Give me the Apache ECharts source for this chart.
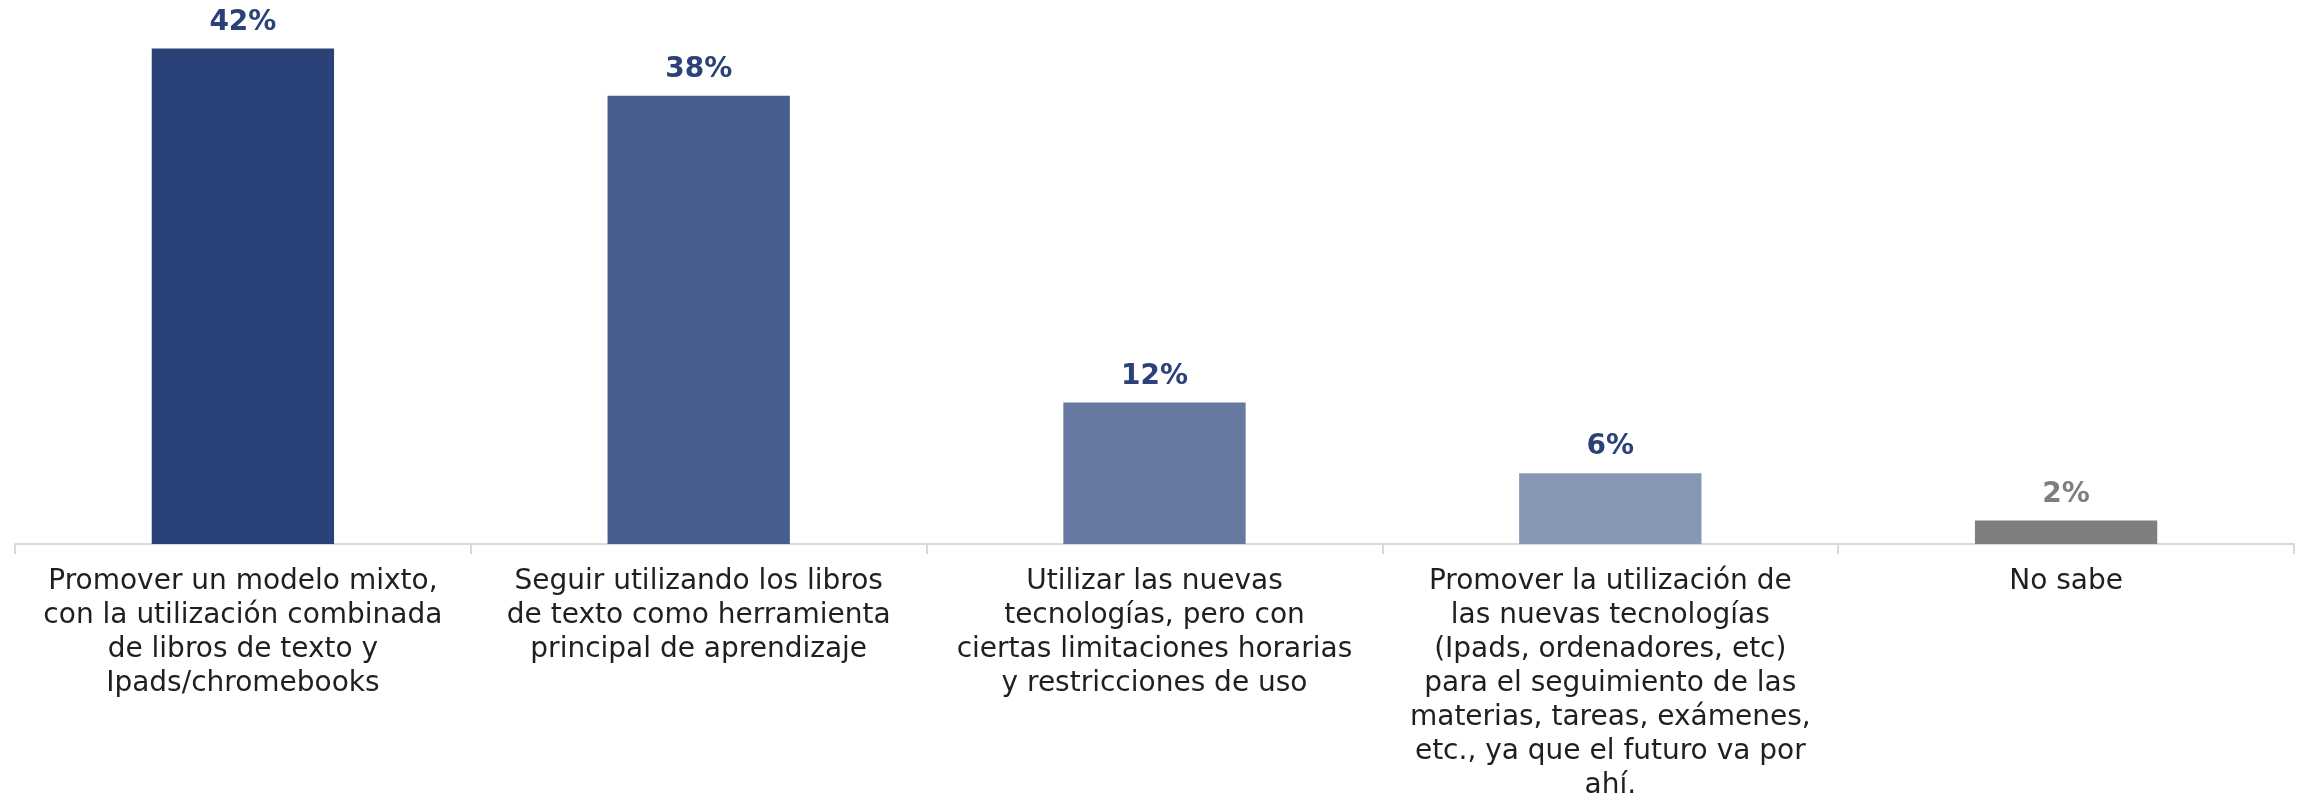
<!DOCTYPE html>
<html>
<head>
<meta charset="utf-8">
<script src="https://cdn.jsdelivr.net/npm/echarts@6/dist/echarts.min.js"></script>
<style>
html,body{margin:0;padding:0;background:#fff;}
#chart{width:2306px;height:809px;}
</style>
</head>
<body>
<div id="chart"></div>
<script>
const categories = [
  "Promover un modelo mixto,\ncon la utilización combinada\nde libros de texto y\nIpads/chromebooks",
  "Seguir utilizando los libros\nde texto como herramienta\nprincipal de aprendizaje",
  "Utilizar las nuevas\ntecnologías, pero con\nciertas limitaciones horarias\ny restricciones de uso",
  "Promover la utilización de\nlas nuevas tecnologías\n(Ipads, ordenadores, etc)\npara el seguimiento de las\nmaterias, tareas, exámenes,\netc., ya que el futuro va por\nahí.",
  "No sabe"
];
const values = [42, 38, 12, 6, 2];
const barColors = ["#2A4278", "#485E8C", "#6879A1", "#8796B4", "#7F7F7F"];
const labelColors = ["#2B4279", "#2B4279", "#2B4279", "#2B4279", "#7F7F7F"];

const chart = echarts.init(document.getElementById('chart'));
chart.setOption({
  backgroundColor: '#ffffff',
  animation: false,
  grid: { left: 15, right: 12, top: 48.5, bottom: 265, containLabel: false, outerBoundsMode: 'none' },
  xAxis: {
    type: 'category',
    data: categories,
    axisLine: { show: true, lineStyle: { color: '#D9D9D9', width: 2 } },
    axisTick: { show: true, alignWithLabel: false, length: 10, lineStyle: { color: '#D9D9D9', width: 2 } },
    axisLabel: {
      interval: 0,
      margin: 21,
      fontFamily: 'DejaVu Sans',
      fontSize: 28,
      lineHeight: 34,
      color: '#1F1F1F',
      align: 'center'
    }
  },
  yAxis: {
    type: 'value',
    min: 0,
    max: 42,
    show: false,
    splitLine: { show: false }
  },
  series: [{
    type: 'bar',
    barCategoryGap: '60%',
    data: values.map((v, i) => ({
      value: v,
      itemStyle: { color: barColors[i] },
      label: { color: labelColors[i] }
    })),
    label: {
      show: true,
      position: 'top',
      distance: 12,
      formatter: '{c}%',
      fontFamily: 'DejaVu Sans',
      fontWeight: 'bold',
      fontSize: 28
    }
  }]
});
</script>
</body>
</html>
